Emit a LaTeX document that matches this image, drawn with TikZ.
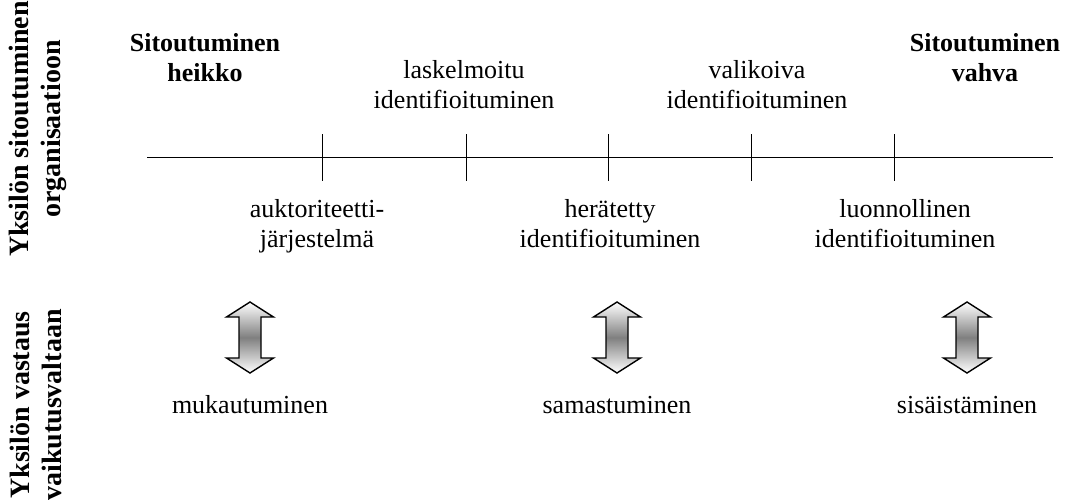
\documentclass[tikz,border=0pt]{standalone}
\usepackage{fontspec}
\setmainfont{Liberation Serif}
\usetikzlibrary{positioning}

\tikzset{
  updown/.pic={
    \shade[draw,line width=1.4pt,top color=white,bottom color=white,middle color=gray]
      (0,-35.5) -- (23.5,-20.5) -- (11,-20.5) -- (11,20.5) -- (23.5,20.5)
      -- (0,35.5) -- (-23.5,20.5) -- (-11,20.5) -- (-11,-20.5) -- (-23.5,-20.5) -- cycle;
    \coordinate (-bot) at (0,35.5);
  }
}

\begin{document}
\begin{tikzpicture}[
  x=1pt, y=-1pt, node distance=22pt,
  lbl/.style={align=center,inner sep=0pt,font=\fontsize{26}{30}\selectfont},
  pole/.style={align=center,inner sep=0pt,font=\fontsize{26}{30}\selectfont\bfseries},
  side/.style={align=center,inner sep=0pt,rotate=90,font=\fontsize{28}{32}\selectfont\bfseries}]
\useasboundingbox (0,0) rectangle (1065,499);
% axis titles
\node[side] (commit) at (38,129) {Yksilön sitoutuminen\\organisaatioon};
\node[side] (resp) at (36,405) {Yksilön vastaus\\vaikutusvaltaan};
% the scale with its ticks
\coordinate (axL) at (147,157);
\coordinate (axR) at (1053,157);
\draw[line width=1pt] (axL) -- (axR);
\foreach \t/\x in {t1/322,t2/466,t3/608,t4/751,t5/894}
  \draw[line width=1pt] (\x,134) coordinate (\t) -- (\x,181);
% ends of the scale
\node[pole] (weak) at (205,58) {Sitoutuminen\\heikko};
\node[pole] (strong) at (985,58) {Sitoutuminen\\vahva};
% stages above and below the axis
\node[lbl] (calc) at (464,85) {laskelmoitu\\identifioituminen};
\node[lbl] (select) at (757,85) {valikoiva\\identifioituminen};
\node[lbl] (auth) at (317,226) {auktoriteetti-\\järjestelmä};
\node[lbl] (arous) at (610,224) {herätetty\\identifioituminen};
\node[lbl] (natur) at (905,224) {luonnollinen\\identifioituminen};
% responses
\pic (a1) at (250,337.5) {updown};
\pic (a2) at (617,337.5) {updown};
\pic (a3) at (967,337.5) {updown};
\node[lbl,text height=18pt,below=of a1-bot] (conf) {mukautuminen};
\node[lbl,text height=18pt,below=of a2-bot] (ident) {samastuminen};
\node[lbl,text height=18pt,below=of a3-bot] (intern) {sisäistäminen};
\end{tikzpicture}
\end{document}
